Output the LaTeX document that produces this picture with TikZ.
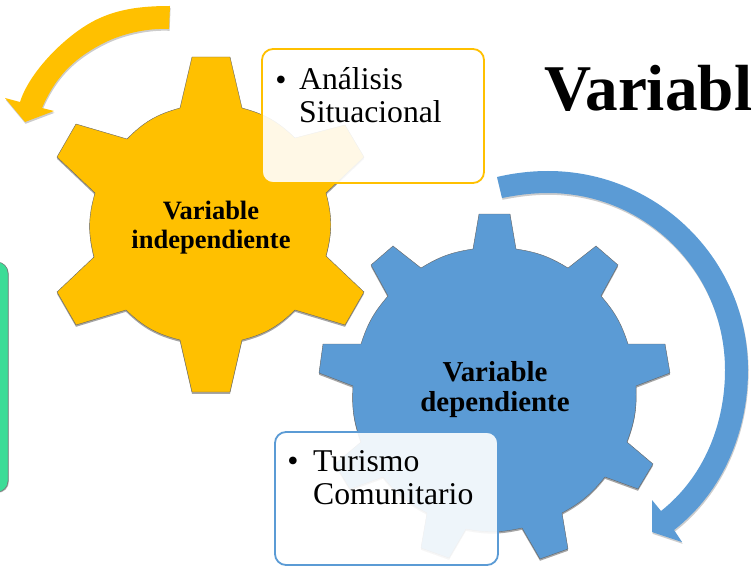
\documentclass[tikz,border=0pt]{standalone}
\usepackage{fontspec}
\setmainfont{Liberation Serif}
\usetikzlibrary{shadows}
\definecolor{gold}{HTML}{FFC000}
\definecolor{steel}{HTML}{5B9BD5}
\definecolor{mint}{HTML}{3DDC97}
\tikzset{
  x=1bp,y=-1bp,
  gearshape/.style={draw=black!60,line width=.4bp,drop shadow={shadow xshift=0bp,shadow yshift=-1.8bp,opacity=.35,fill=black}},
  arrowshape/.style={drop shadow={shadow xshift=.6bp,shadow yshift=-1.8bp,opacity=.2,fill=black}},
  infobox/.style={rounded corners=11bp,fill=white,fill opacity=.9,line width=1.8bp},
  gearlabel/.style={font=\bfseries,align=center,text=black,inner sep=0},
  boxlabel/.style={align=left,anchor=north west,inner sep=0,text=black},
  bulletmark/.style={font=\fontsize{32}{32}\selectfont,inner sep=0,text=black},
}
\begin{document}
\begin{tikzpicture}
\useasboundingbox (0,0) rectangle (753,566);
\begin{scope}
\clip (0,0) rectangle (753,566);
% green box
\node[draw=black!55,line width=.5bp,fill=mint,rounded corners=11bp,minimum width=50bp,minimum height=230bp,drop shadow={shadow xshift=.8bp,shadow yshift=-.8bp,opacity=.3,fill=black},inner sep=0] (greenbox) at (-17,377) {};
% yellow arrow
\fill[gold,arrowshape] (170,6) .. controls (146,6) and (122,8) .. (100,18) .. controls (70,31) and (30,70) .. (20,102) -- (5,98) -- (25,122) -- (54,111) -- (42,108) .. controls (55,78) and (72,60) .. (100,45) .. controls (120,34) and (146,28) .. (169,29) -- cycle;
% blue arrow
\fill[steel,arrowshape] (497,177) .. controls (514,173) and (531,171) .. (548,171) .. controls (658,171) and (748,260) .. (748,370) .. controls (748,431) and (723,492) .. (674,530) -- (682,542) -- (652,532) -- (652,500) -- (661,511) .. controls (704,477) and (725,424) .. (725,370) .. controls (725,272) and (646,193) .. (548,193) .. controls (532,193) and (517,195) .. (502,198) -- cycle;
% yellow gear
\draw[gearshape,fill=gold] (192,57) -- (230,57) -- (242,108) to[bend left=14.5] (295,138) -- (345,125) -- (364,157) -- (326,193) to[bend left=15] (326,256) -- (364,292) -- (345,325) -- (295,310) to[bend left=15] (242,340) -- (230,392) -- (192,392) -- (180,340) to[bend left=15] (126,310) -- (76,325) -- (57,292) -- (94,257) to[bend left=15] (95,193) -- (57,157) -- (76,124) -- (127,139) to[bend left=15] (180,108) -- cycle;
% blue gear
\draw[gearshape,fill=steel] (479,214) -- (510,214) -- (516,249) to[bend left=11.5] (568,268) -- (596,246) -- (618,265) -- (601,296) to[bend left=11.5] (628,344) -- (665,344) -- (670,373) -- (636,386) to[bend left=11.5] (627,442) -- (653,464) -- (638,489) -- (605,477) to[bend left=11.5] (562,513) -- (568,549) -- (540,559) -- (522,528) to[bend left=11.5] (466,529) -- (449,558) -- (421,548) -- (427,513) to[bend left=11.5] (383,477) -- (350,489) -- (335,464) -- (361,442) to[bend left=11.5] (353,386) -- (319,373) -- (323,344) -- (361,344) to[bend left=11.5] (388,296) -- (371,265) -- (393,246) -- (421,268) to[bend left=11.5] (473,249) -- cycle;
% boxes
\draw[infobox,draw=gold] (262,49) rectangle (484,183);
\draw[infobox,draw=steel] (275,432) rectangle (498,565);
\end{scope}
\node[gearlabel,font=\bfseries\fontsize{26.6}{29}\selectfont] (indep) at (211,227.5) {Variable\\independiente};
\node[gearlabel,font=\bfseries\fontsize{29}{31}\selectfont] (dep) at (495,389.5) {Variable\\dependiente};
\node[boxlabel,font=\fontsize{31.8}{33.5}\selectfont] (analisis) at (299,67) {Análisis\\Situacional};
\node[bulletmark] (b1) at (281,83) {•};
\node[boxlabel,font=\fontsize{31.8}{32.5}\selectfont] (turismo) at (313,450.5) {Turismo\\Comunitario};
\node[bulletmark] (b2) at (293,464.5) {•};
\node[font=\bfseries\fontsize{65.5}{70}\selectfont,anchor=base west,inner sep=0] (title) at (544,110.5) {Variabl};
\end{tikzpicture}
\end{document}
